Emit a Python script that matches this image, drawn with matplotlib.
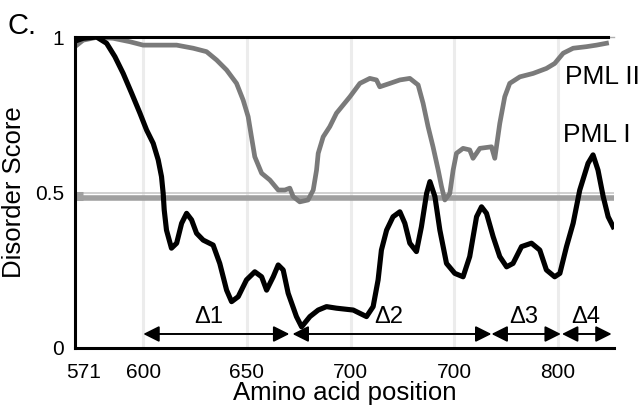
import matplotlib
matplotlib.use("Agg")
import matplotlib.pyplot as plt

plt.rcParams['font.family'] = ['Liberation Sans', 'DejaVu Sans']

# PML I disorder score (black curve)
pml1_pos = [566.2, 571.0, 577.5, 582.3, 586.3, 590.3, 594.4, 598.4, 601.6, 604.8, 607.2,
            608.8, 609.6, 610.1, 611.2, 613.6, 616.1, 618.5, 620.9, 623.3, 625.7, 628.9,
            633.7, 636.9, 640.2, 642.6, 645.8, 649.8, 653.8, 657.1, 659.5, 662.7, 665.1,
            667.5, 669.9, 673.9, 676.4, 680.4, 684.4, 688.4, 693.2, 701.3, 707.7, 710.9,
            713.3, 714.9, 717.4, 720.5, 723.8, 726.2, 728.6, 731.8, 734.2, 736.7, 738.3,
            740.7, 743.1, 746.3, 750.3, 754.3, 757.5, 760.8, 763.2, 765.6, 768.8, 772.0,
            775.3, 778.4, 782.5, 787.3, 791.3, 794.5, 798.5, 801.0, 804.2, 807.4, 810.6,
            814.6, 817.0, 819.4, 821.9, 824.3, 826.7]
pml1_score = [0.985, 0.996, 1.000, 0.980, 0.937, 0.883, 0.819, 0.755, 0.701, 0.658, 0.605,
              0.551, 0.497, 0.444, 0.379, 0.321, 0.337, 0.401, 0.433, 0.412, 0.369, 0.347,
              0.331, 0.272, 0.186, 0.149, 0.165, 0.219, 0.245, 0.229, 0.186, 0.229, 0.267,
              0.251, 0.176, 0.101, 0.068, 0.101, 0.122, 0.133, 0.128, 0.122, 0.101, 0.133,
              0.219, 0.315, 0.379, 0.422, 0.438, 0.401, 0.337, 0.310, 0.390, 0.497, 0.535,
              0.487, 0.379, 0.272, 0.240, 0.229, 0.294, 0.422, 0.454, 0.433, 0.358, 0.294,
              0.261, 0.272, 0.326, 0.337, 0.315, 0.251, 0.229, 0.240, 0.326, 0.401, 0.508,
              0.594, 0.621, 0.572, 0.487, 0.422, 0.390]

# PML II disorder score (gray curve)
pml2_pos = [567.0, 571.0, 577.5, 585.5, 593.5, 599.9, 608.0, 616.1, 624.1, 630.5, 635.4,
            640.2, 645.0, 648.2, 650.6, 652.2, 653.8, 657.1, 661.1, 665.1, 668.3, 670.7,
            672.3, 675.5, 679.5, 682.0, 683.6, 684.4, 686.8, 690.0, 693.2, 699.7, 704.5,
            709.3, 712.5, 714.1, 719.0, 723.8, 728.6, 732.6, 735.0, 737.4, 739.8, 742.3,
            743.9, 745.5, 747.9, 749.5, 751.1, 754.3, 757.5, 759.1, 762.4, 768.0, 769.6,
            770.4, 772.0, 774.4, 776.8, 781.7, 788.1, 794.5, 798.5, 802.6, 807.4, 813.8,
            818.7, 823.5]
pml2_score = [0.969, 0.990, 0.999, 0.996, 0.985, 0.974, 0.974, 0.974, 0.964, 0.953, 0.926,
              0.894, 0.851, 0.797, 0.744, 0.679, 0.615, 0.562, 0.540, 0.508, 0.508, 0.514,
              0.487, 0.470, 0.476, 0.508, 0.572, 0.626, 0.679, 0.712, 0.755, 0.808, 0.851,
              0.867, 0.862, 0.840, 0.851, 0.862, 0.867, 0.846, 0.787, 0.712, 0.647, 0.572,
              0.519, 0.476, 0.497, 0.572, 0.626, 0.642, 0.637, 0.610, 0.642, 0.647, 0.610,
              0.647, 0.722, 0.808, 0.851, 0.872, 0.883, 0.899, 0.915, 0.948, 0.964, 0.969,
              0.974, 0.980]

threshold = 0.482
gridline_y = 0.5

# deletion regions
domain_labels = ['Δ1', 'Δ2', 'Δ3', 'Δ4']
domain_start = [600, 672, 768, 802]
domain_end = [670.5, 768, 801.5, 826]
domain_label_x = [631.6, 718.5, 783.6, 813.5]

xtick_pos = [571, 600, 650, 700, 750, 800]
xtick_labels = ['571', '600', '650', '700', '700', '800']
vgrid_pos = [600, 650, 700, 750, 800]

fig = plt.figure(figsize=(6.4, 4.07), dpi=100)
ax = fig.add_axes([0.117, 0.145, 0.842, 0.764])
ax.set_xlim(567, 827)
ax.set_ylim(0, 1)

for xv in vgrid_pos:
    ax.axvline(xv, color='#ececec', lw=2.2, zorder=0)

ax.axhline(gridline_y, color='#c4c4c4', lw=1.1, zorder=1)
ax.plot([571, 827], [threshold, threshold], color='#a0a0a0', lw=4, zorder=1,
        solid_capstyle='butt')
ax.plot([567, 571], [0.49, 0.49], color='#a0a0a0', lw=6.5, zorder=1,
        solid_capstyle='butt')

ax.plot(pml2_pos, pml2_score, color='#7a7a7a', lw=3.4, zorder=2)
ax.plot(pml1_pos, pml1_score, color='black', lw=3.7, zorder=3)

ax.plot([567, 827], [1, 1], color='#b0b0b0', lw=1, zorder=4, clip_on=False)
ax.plot([567, 824], [1, 1], color='black', lw=2.2, zorder=4, clip_on=False)

for lab, s, e, lx in zip(domain_labels, domain_start, domain_end, domain_label_x):
    ax.annotate('', xy=(e, 0.045), xytext=(s, 0.045),
                arrowprops=dict(arrowstyle='<|-|>', color='black', lw=1.4,
                                mutation_scale=24, shrinkA=0, shrinkB=0))
    ax.text(lx, 0.1, lab, ha='center', va='center', fontsize=17)

ax.text(803.4, 0.871, 'PML II', ha='left', va='center', fontsize=19, clip_on=False)
ax.text(802.4, 0.685, 'PML I', ha='left', va='center', fontsize=19, clip_on=False)
fig.text(0.012, 0.935, 'C.', fontsize=21, ha='left', va='center')

ax.set_xticks(xtick_pos)
ax.set_xticklabels(xtick_labels, fontsize=15)
ax.set_yticks([0, 0.5, 1])
ax.set_yticklabels(['0', '0.5', '1'], fontsize=15)
ax.tick_params(axis='x', length=0, pad=11)
ax.tick_params(axis='y', length=0, pad=8)
ax.set_xlabel('Amino acid position', fontsize=18.5)
ax.xaxis.set_label_coords(0.5, -0.105)
ax.set_ylabel('Disorder Score', fontsize=18.5)
ax.yaxis.set_label_coords(-0.09, 0.5)

for side in ['top', 'right']:
    ax.spines[side].set_visible(False)
for side in ['left', 'bottom']:
    ax.spines[side].set_linewidth(2.2)

fig.savefig('out.png', dpi=100)
